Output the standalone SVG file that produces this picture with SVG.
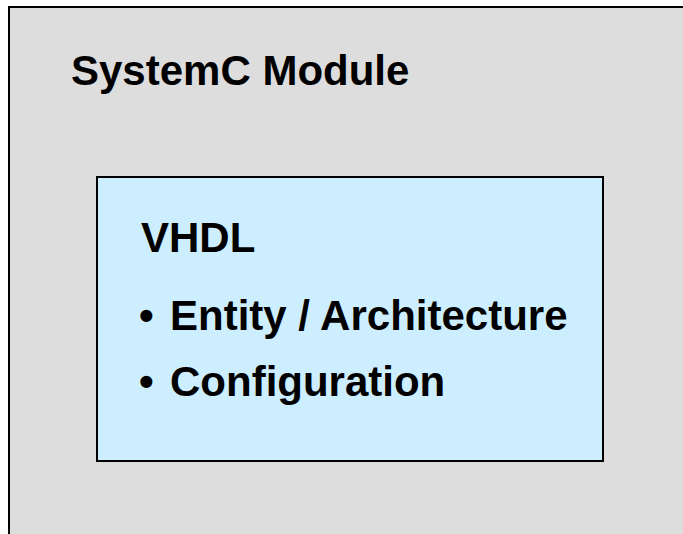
<svg xmlns="http://www.w3.org/2000/svg" width="683" height="534" viewBox="0 0 683 534">
  <style>
    .frame { stroke: #000000; stroke-width: 2; }
    .label { font-family: "Liberation Sans", Arial, sans-serif; font-weight: bold; font-size: 42px; fill: #000000; }
  </style>
  <rect x="0" y="0" width="683" height="534" fill="#ffffff"/>

  <!-- Outer SystemC module container -->
  <g id="systemc-module">
    <rect class="frame" x="9" y="7" width="700" height="560" fill="#dddddd"/>
    <text class="label" x="71" y="85">SystemC Module</text>
  </g>

  <!-- Embedded VHDL block -->
  <g id="vhdl">
    <rect class="frame" x="97" y="177" width="506" height="284" fill="#cceeff"/>
    <text class="label" x="141" y="252">VHDL</text>
    <text class="label" x="139" y="330">•</text>
    <text class="label" x="170" y="330">Entity / Architecture</text>
    <text class="label" x="139" y="396">•</text>
    <text class="label" x="170" y="396">Configuration</text>
  </g>

  <g id="connectors"/>
</svg>
